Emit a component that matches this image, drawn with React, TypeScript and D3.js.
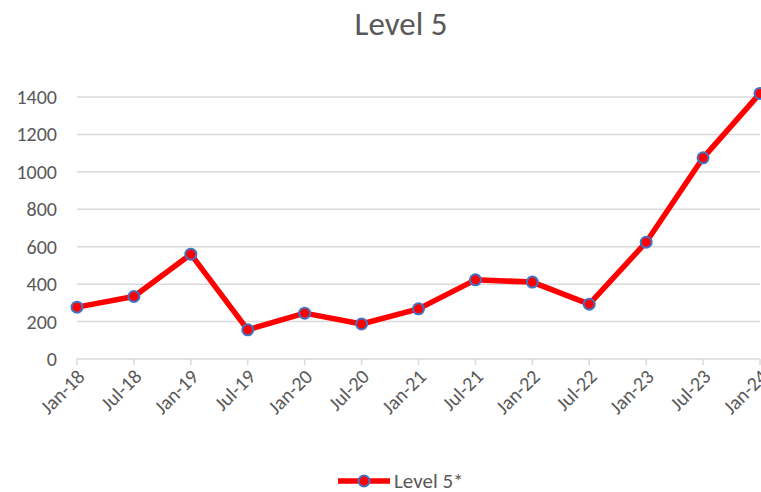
import { useRef, useEffect } from 'react';
import * as d3 from 'd3';

const W = 761;
const H = 492;
const MARGIN = { top: 97, right: 1, bottom: 133, left: 77 };

const categories = [
  'Jan-18', 'Jul-18', 'Jan-19', 'Jul-19', 'Jan-20', 'Jul-20', 'Jan-21',
  'Jul-21', 'Jan-22', 'Jul-22', 'Jan-23', 'Jul-23', 'Jan-24',
];
const level5 = [277, 334, 560, 156, 245, 187, 268, 423, 411, 293, 624, 1075, 1419];
const yTicks = [0, 200, 400, 600, 800, 1000, 1200, 1400];

const FONT = 'Carlito, Lato, "Liberation Sans", sans-serif';
const TEXT = '#595959';
const GRID = '#d9d9d9';

export default function App() {
  const svgRef = useRef<SVGSVGElement>(null);

  useEffect(() => {
    if (!svgRef.current) return;
    const svg = d3.select(svgRef.current);
    svg.selectAll('*').remove();

    const innerW = W - MARGIN.left - MARGIN.right;
    const innerH = H - MARGIN.top - MARGIN.bottom;

    const x = d3.scalePoint<string>().domain(categories).range([0, innerW]);
    const y = d3.scaleLinear().domain([0, 1400]).range([innerH, 0]);

    svg.append('rect').attr('width', W).attr('height', H).attr('fill', '#fff');

    // title
    svg.append('text')
      .attr('x', 401)
      .attr('y', 35)
      .attr('text-anchor', 'middle')
      .attr('font-family', FONT)
      .attr('font-size', 33)
      .attr('fill', TEXT)
      .text('Level 5');

    const g = svg.append('g').attr('transform', `translate(${MARGIN.left},${MARGIN.top})`);

    // gridlines
    g.selectAll('line.grid')
      .data(yTicks.filter((t) => t > 0))
      .join('line')
      .attr('x1', 0)
      .attr('x2', innerW)
      .attr('y1', (d) => y(d))
      .attr('y2', (d) => y(d))
      .attr('stroke', GRID)
      .attr('stroke-width', 1.5);

    // y labels
    g.selectAll('text.ylab')
      .data(yTicks)
      .join('text')
      .attr('x', -20)
      .attr('y', (d) => y(d))
      .attr('dy', '0.35em')
      .attr('text-anchor', 'end')
      .attr('font-family', FONT)
      .attr('font-size', 20)
      .attr('fill', TEXT)
      .text((d) => d);

    // x axis
    g.append('line')
      .attr('x1', 0)
      .attr('x2', innerW)
      .attr('y1', innerH)
      .attr('y2', innerH)
      .attr('stroke', GRID)
      .attr('stroke-width', 1.5);

    g.selectAll('line.xtick')
      .data(categories)
      .join('line')
      .attr('x1', (d) => x(d)!)
      .attr('x2', (d) => x(d)!)
      .attr('y1', innerH)
      .attr('y2', innerH + 6)
      .attr('stroke', GRID)
      .attr('stroke-width', 1.5);

    g.selectAll('text.xlab')
      .data(categories)
      .join('text')
      .attr('transform', (d) => `translate(${x(d)! + 4},${innerH + 14}) rotate(-45)`)
      .attr('text-anchor', 'end')
      .attr('dy', '0.35em')
      .attr('font-family', FONT)
      .attr('font-size', 20)
      .attr('fill', TEXT)
      .text((d) => d);

    // series
    const line = d3.line<number>()
      .x((_, i) => x(categories[i])!)
      .y((d) => y(d));

    g.append('path')
      .datum(level5)
      .attr('d', line)
      .attr('fill', 'none')
      .attr('stroke', '#ff0000')
      .attr('stroke-width', 5.5)
      .attr('stroke-linejoin', 'round');

    g.selectAll('circle.pt')
      .data(level5)
      .join('circle')
      .attr('cx', (_, i) => x(categories[i])!)
      .attr('cy', (d) => y(d))
      .attr('r', 5.5)
      .attr('fill', '#ff0000')
      .attr('stroke', '#4472c4')
      .attr('stroke-width', 2);

    // legend
    const lg = svg.append('g').attr('transform', 'translate(338,481)');
    lg.append('line')
      .attr('x1', 0)
      .attr('x2', 52)
      .attr('stroke', '#ff0000')
      .attr('stroke-width', 5.5);
    lg.append('circle')
      .attr('cx', 26)
      .attr('r', 5.5)
      .attr('fill', '#ff0000')
      .attr('stroke', '#4472c4')
      .attr('stroke-width', 2);
    lg.append('text')
      .attr('x', 56)
      .attr('dy', '0.35em')
      .attr('font-family', FONT)
      .attr('font-size', 21)
      .attr('fill', TEXT)
      .text('Level 5*');
  }, []);

  return (
    <svg
      ref={svgRef}
      width={W}
      height={H}
      style={{ position: 'absolute', left: 0, top: 0, display: 'block' }}
    />
  );
}
